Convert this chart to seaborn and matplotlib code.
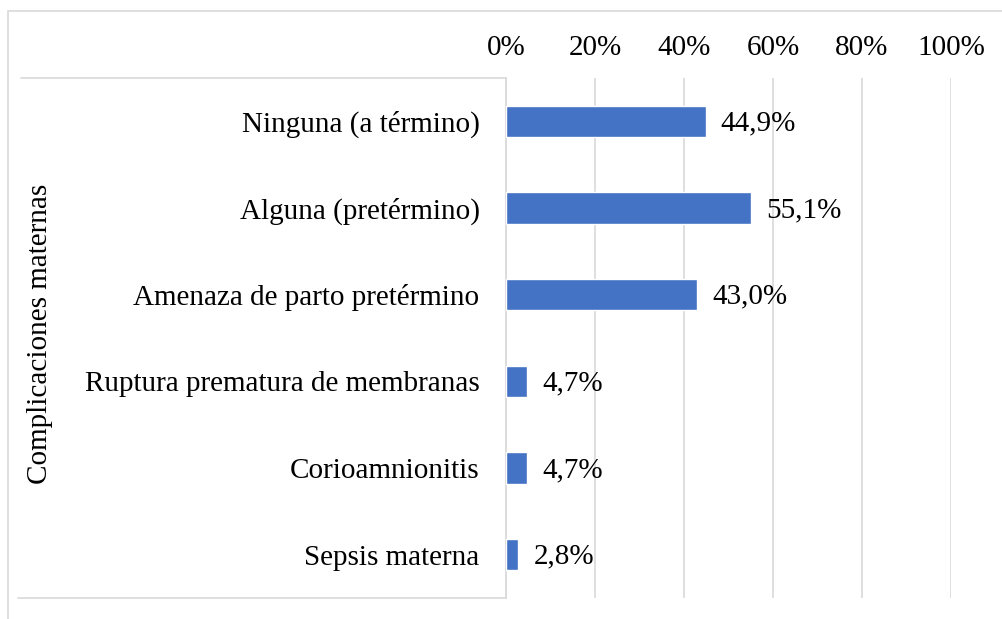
import numpy as np
import pandas as pd
import matplotlib
matplotlib.use("Agg")
import matplotlib.pyplot as plt
import seaborn as sns
from matplotlib.lines import Line2D
from matplotlib.patches import Rectangle

# Data
categorias = ["Ninguna (a término)", "Alguna (pretérmino)", "Amenaza de parto pretérmino",
              "Ruptura prematura de membranas", "Corioamnionitis", "Sepsis materna"]
porcentajes = [44.9, 55.1, 43.0, 4.7, 4.7, 2.8]
ticks = [0, 20, 40, 60, 80, 100]
tick_labels = ["0%", "20%", "40%", "60%", "80%", "100%"]

df = pd.DataFrame({"categoria": categorias, "pct": porcentajes})

sns.set_theme(style="white")
plt.rcParams['font.family'] = ['Liberation Serif', 'DejaVu Serif']
fs = 21

W, H = 1002, 619
fig = plt.figure(figsize=(W / 100, H / 100), dpi=100)

# plot area in pixels: x 506..951, y 78..598
x0, x1, y0, y1 = 506, 951, 78, 598
ax = fig.add_axes([x0 / W, 1 - y1 / H, (x1 - x0) / W, (y1 - y0) / H])

sns.barplot(data=df, x="pct", y="categoria", color="#4472C4", width=0.36,
            saturation=1, ax=ax, zorder=3)

ax.set_xlim(0, 100)
ax.set_xticks(ticks)
ax.set_xticklabels(tick_labels, fontsize=fs, color="black")
ax.xaxis.tick_top()
ax.tick_params(axis="x", length=0, pad=12)
ax.tick_params(axis="y", length=0, pad=19, labelsize=fs, labelcolor="black")
ax.grid(axis="x", color="#D9D9D9", linewidth=1.2, zorder=0)
ax.set_xlabel("")
ax.set_ylabel("")
for s in ["top", "right", "bottom"]:
    ax.spines[s].set_visible(False)
ax.spines["left"].set_color("#D9D9D9")
ax.spines["left"].set_linewidth(1.2)

for i, v in enumerate(porcentajes):
    ax.annotate(f"{v:.1f}%".replace(".", ","), (v, i), xytext=(15, -2),
                textcoords="offset pixels",
                va="center", ha="left", fontsize=fs, color="black")

# category box lines and outer border
fig.add_artist(Line2D([21 / W, x0 / W], [1 - y0 / H, 1 - y0 / H], color="#D9D9D9", lw=1.2))
fig.add_artist(Line2D([18 / W, x0 / W], [1 - y1 / H, 1 - y1 / H], color="#D9D9D9", lw=1.2))
fig.add_artist(Rectangle((8 / W, -0.05), 1.1, 1 - 11 / H + 0.05, fill=False,
                         edgecolor="#D9D9D9", lw=1.2, transform=fig.transFigure))

fig.text(40 / W, 1 - 334 / H, "Complicaciones maternas", rotation=90,
         ha="center", va="center", fontsize=fs, color="black")

fig.savefig("out.png", dpi=100)
